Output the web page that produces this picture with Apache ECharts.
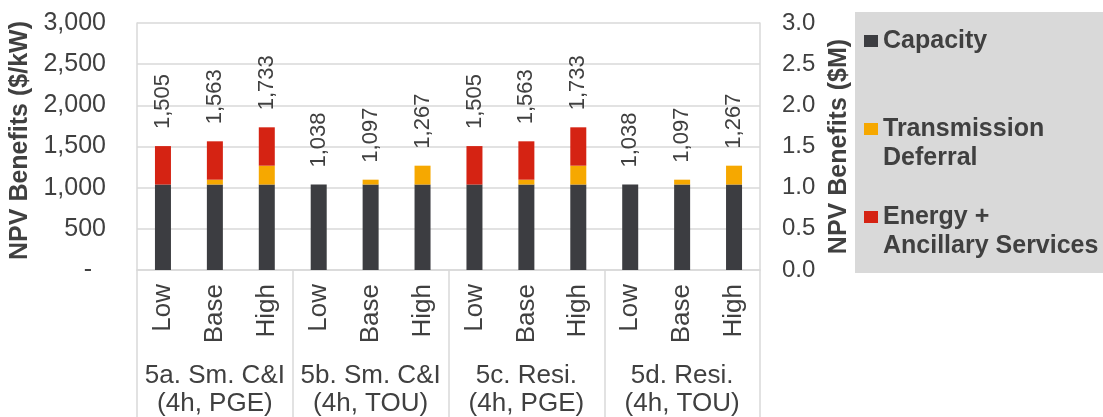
<!DOCTYPE html>
<html>
<head>
<meta charset="utf-8">
<script src="https://cdn.jsdelivr.net/npm/echarts@6/dist/echarts.min.js"></script>
<style>
  html, body { margin: 0; padding: 0; background: #ffffff; }
  #chart { width: 1103px; height: 417px; }
</style>
</head>
<body>
<div id="chart"></div>
<script>
// Storage scenarios per case (inner axis) and the four cases (outer axis)
const scenarios = ['Low', 'Base', 'High', 'Low', 'Base', 'High', 'Low', 'Base', 'High', 'Low', 'Base', 'High'];
const cases = ['5a. Sm. C&I\n(4h, PGE)', '5b. Sm. C&I\n(4h, TOU)', '5c. Resi.\n(4h, PGE)', '5d. Resi.\n(4h, TOU)'];

// NPV benefit components, $/kW
const capacity = [1038, 1038, 1038, 1038, 1038, 1038, 1038, 1038, 1038, 1038, 1038, 1038];
const transmission = [0, 59, 229, 0, 59, 229, 0, 59, 229, 0, 59, 229];
const energy = [467, 466, 466, 0, 0, 0, 467, 466, 466, 0, 0, 0];

// Axis ticks
const kwTicks = [0, 500, 1000, 1500, 2000, 2500, 3000];
const mTicks = [0.0, 0.5, 1.0, 1.5, 2.0, 2.5, 3.0];

const seriesNames = ['Capacity', 'Transmission Deferral', 'Energy + Ancillary Services'];
const totals = capacity.map((c, i) => c + transmission[i] + energy[i]);

const FONT = '"Liberation Sans", Arial, sans-serif';
const TEXT = '#404040';
const GRID = '#d9d9d9';

const chart = echarts.init(document.getElementById('chart'), null, { renderer: 'canvas' });

// Two-line legend entries get a blank leading line so the swatch sits on the first text line
const legendLabel = n => n === 'Transmission Deferral' ? ' \nTransmission\nDeferral'
  : n === 'Energy + Ancillary Services' ? ' \nEnergy +\nAncillary Services' : n;

function legendFor(name, top) {
  return {
    show: true,
    orient: 'vertical',
    left: 864,
    top: top,
    padding: 0,
    itemWidth: 14,
    itemHeight: 12,
    icon: 'rect',
    data: [name],
    selectedMode: false,
    formatter: legendLabel,
    textStyle: {
      fontFamily: FONT, fontSize: 25, fontWeight: 'bold', color: TEXT, lineHeight: 29
    }
  };
}

const option = {
  animation: false,
  backgroundColor: '#ffffff',
  textStyle: { fontFamily: FONT },
  graphic: [{
    type: 'rect', left: 855, top: 12, z: -10,
    shape: { width: 248, height: 261 },
    style: { fill: '#d9d9d9' }
  }],
  legend: [
    legendFor('Capacity', 26.5),
    legendFor('Transmission Deferral', 85.5),
    legendFor('Energy + Ancillary Services', 173.5)
  ],
  grid: { left: 137, right: 343, top: 23, bottom: 147, containLabel: false, outerBoundsMode: 'none' },
  xAxis: [{
    type: 'category',
    data: scenarios,
    axisLine: { show: true, lineStyle: { color: GRID, width: 1.5 } },
    axisTick: { show: false },
    axisLabel: {
      interval: 0, rotate: 90, margin: 14,
      fontFamily: FONT, fontSize: 26, color: TEXT
    }
  }, {
    type: 'category',
    data: cases,
    position: 'bottom',
    axisLine: { show: false },
    axisTick: { show: true, interval: 0, length: 147, lineStyle: { color: GRID, width: 1.5 } },
    axisLabel: {
      interval: 0, margin: 92, lineHeight: 28,
      fontFamily: FONT, fontSize: 26, color: TEXT
    }
  }],
  yAxis: [{
    type: 'value',
    min: kwTicks[0], max: kwTicks[kwTicks.length - 1], interval: 500,
    name: 'NPV Benefits ($/kW)',
    nameLocation: 'middle', nameGap: 102,
    nameTextStyle: { fontFamily: FONT, fontSize: 25, fontWeight: 'bold', color: TEXT, padding: [0, 0, 0, 12] },
    axisLine: { show: true, lineStyle: { color: GRID, width: 1.5 } },
    axisTick: { show: false },
    splitLine: { show: true, lineStyle: { color: GRID, width: 1.5 } },
    axisLabel: {
      margin: 31, fontFamily: FONT, fontSize: 25, color: TEXT,
      formatter: v => v === 0 ? '-  ' : v.toLocaleString('en-US')
    }
  }, {
    type: 'value',
    position: 'right',
    min: mTicks[0], max: mTicks[mTicks.length - 1], interval: 0.5,
    name: 'NPV Benefits ($M)',
    nameLocation: 'middle', nameGap: 67,
    nameTextStyle: { fontFamily: FONT, fontSize: 25, fontWeight: 'bold', color: TEXT },
    axisLine: { show: true, lineStyle: { color: GRID, width: 1.5 } },
    axisTick: { show: false },
    splitLine: { show: false },
    axisLabel: {
      margin: 22, fontFamily: FONT, fontSize: 24, color: TEXT,
      formatter: v => v.toFixed(1)
    }
  }],
  series: [{
    name: seriesNames[0], type: 'bar', stack: 'npv', barWidth: 16,
    itemStyle: { color: '#3c3d41' },
    data: capacity
  }, {
    name: seriesNames[1], type: 'bar', stack: 'npv', barWidth: 16,
    itemStyle: { color: '#f6a800' },
    data: transmission
  }, {
    name: seriesNames[2], type: 'bar', stack: 'npv', barWidth: 16,
    itemStyle: { color: '#d52313' },
    data: energy,
    label: {
      show: true, position: 'top', rotate: 90, distance: 17,
      align: 'left', verticalAlign: 'middle',
      fontFamily: FONT, fontSize: 22, color: TEXT,
      formatter: p => totals[p.dataIndex].toLocaleString('en-US')
    }
  }]
};

chart.setOption(option);
</script>
</body>
</html>
